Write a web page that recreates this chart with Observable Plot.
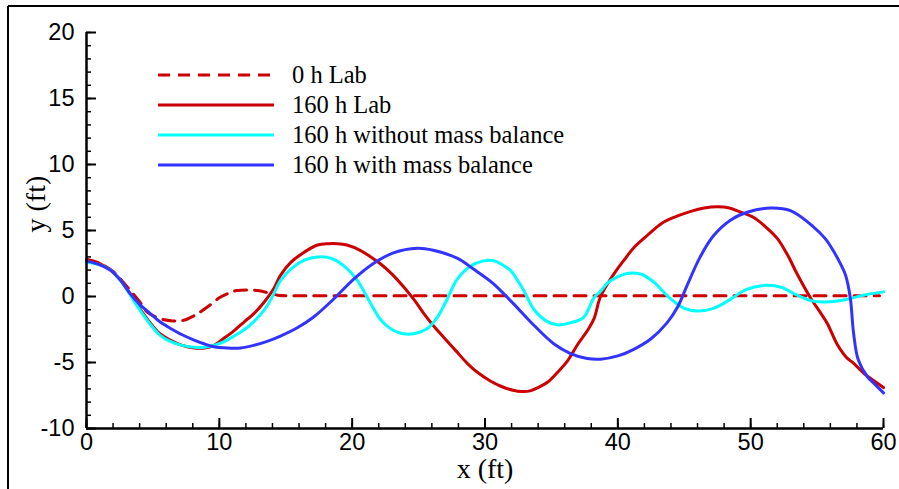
<!DOCTYPE html>
<html>
<head>
<meta charset="utf-8">
<script src="https://cdn.jsdelivr.net/npm/d3@7"></script>
<script src="https://cdn.jsdelivr.net/npm/@observablehq/plot@0.6"></script>
<style>
  html, body { margin: 0; padding: 0; background: #fff; }
  #chart { position: relative; width: 899px; height: 489px; }
</style>
</head>
<body>
<div id="chart"></div>
<script>
// ---- Data ----
const seriesNames = ["0 h Lab", "160 h Lab", "160 h without mass balance", "160 h with mass balance"];
const seriesColors = ["#cc0000", "#cc0000", "#00ffff", "#3333ff"];
const seriesDash = ["12,8", null, null, null];

const lab0X = [0, 1, 2, 3, 4, 4.6, 5.6, 6.5, 7.3, 8.2, 9.1, 10, 10.6, 11.3, 12.1, 12.9, 13.6, 14.4, 15.1, 16, 20, 25, 30, 35, 40, 45, 50, 55, 59.7];
const lab0Y = [2.8, 2.5, 1.9, 0.8, -0.4, -1.2, -1.7, -1.85, -1.8, -1.4, -0.8, -0.1, 0.2, 0.45, 0.5, 0.45, 0.3, 0.1, 0.05, 0.05, 0.05, 0.05, 0.05, 0.05, 0.05, 0.05, 0.05, 0.05, 0.05];

const lab160X = [0, 1, 1.8, 2.5, 3.3, 4, 4.8, 5.5, 6.3, 7.2, 8.1, 8.9, 9.6, 10.3, 11.1, 11.9, 12.6, 13.4, 14.1, 14.6, 15.4, 16.3, 17.4, 18.2, 18.9, 19.6, 20.6, 21.4, 22.1, 23, 23.9, 24.7, 25.4, 26.1, 26.9, 27.8, 28.7, 29.5, 30.4, 31.2, 32.1, 32.8, 33.4, 34, 34.7, 35.5, 36.2, 37, 37.7, 38.2, 38.7, 39.7, 40.5, 41.2, 42.3, 43.4, 44.5, 45.5, 46.5, 47.5, 48.4, 49.2, 50.2, 51.1, 52, 52.8, 53.5, 54.5, 55.3, 55.8, 56.5, 57.2, 57.8, 58.5, 59.3, 60];
const lab160Y = [2.8, 2.5, 2.0, 1.3, 0.2, -0.9, -2.0, -2.8, -3.3, -3.7, -3.9, -3.9, -3.7, -3.2, -2.6, -1.9, -1.3, -0.4, 0.6, 1.6, 2.6, 3.3, 3.9, 4.0, 4.0, 3.9, 3.5, 3.0, 2.5, 1.7, 0.7, -0.3, -1.3, -2.2, -3.1, -4.1, -5.1, -5.8, -6.4, -6.8, -7.1, -7.2, -7.15, -6.9, -6.5, -5.7, -4.9, -3.6, -2.6, -1.7, 0.0, 1.7, 2.8, 3.7, 4.7, 5.6, 6.1, 6.45, 6.7, 6.8, 6.7, 6.4, 6.0, 5.3, 4.4, 3.1, 1.7, -0.1, -1.3, -2.1, -3.6, -4.6, -5.1, -5.8, -6.4, -6.9];

const noMassX = [0, 1, 1.8, 2.5, 3.3, 4, 4.8, 5.5, 6.3, 7.2, 8.1, 8.9, 9.6, 10.4, 11.1, 11.9, 12.6, 13.4, 14.0, 14.6, 15.4, 16.4, 17.4, 18.4, 19.4, 20.4, 21.1, 21.6, 22.1, 22.7, 23.4, 24.1, 24.7, 25.7, 26.4, 26.8, 27.2, 27.9, 28.9, 29.9, 30.7, 31.3, 31.9, 32.4, 32.9, 33.7, 34.7, 35.5, 36.4, 37.4, 38.2, 38.7, 39.2, 40, 40.7, 41.7, 42.7, 43.4, 44, 45, 46, 47.2, 48.5, 49.4, 50.2, 51.2, 52.3, 53.5, 54.7, 56, 57.3, 58.5, 60];
const noMassY = [2.6, 2.4, 2.0, 1.3, 0.1, -1.0, -2.1, -2.9, -3.4, -3.7, -3.85, -3.85, -3.7, -3.4, -3.0, -2.5, -1.9, -1.0, 0.0, 1.2, 2.1, 2.75, 3.0, 2.9, 2.3, 1.2, 0.0, -0.9, -1.7, -2.3, -2.7, -2.85, -2.8, -2.4, -1.6, -0.9, -0.1, 1.3, 2.3, 2.7, 2.7, 2.4, 2.0, 1.3, 0.5, -1.0, -1.9, -2.15, -2.0, -1.6, -0.1, 0.4, 1.0, 1.5, 1.75, 1.7, 1.1, 0.4, -0.2, -0.9, -1.1, -0.9, -0.2, 0.4, 0.7, 0.85, 0.7, 0.1, -0.35, -0.4, -0.2, 0.1, 0.35];

const withMassX = [0, 1, 1.8, 2.5, 3.3, 4, 4.8, 5.5, 6.3, 7.2, 8.1, 8.9, 9.6, 10.6, 11.6, 12.6, 13.6, 14.6, 15.9, 17.1, 18.6, 20.1, 21.6, 23.1, 24.9, 26.1, 27.9, 29.1, 30.6, 32.1, 33.7, 35.2, 36.4, 37.7, 38.7, 40, 41.2, 42.5, 43.7, 44.5, 45.2, 46.2, 47.2, 48.5, 49.8, 51.5, 53, 54.7, 55.6, 56.2, 56.8, 57.15, 57.5, 57.75, 58.1, 58.8, 59.3, 60];
const withMassY = [2.7, 2.4, 2.0, 1.3, 0.2, -0.6, -1.3, -1.9, -2.4, -2.9, -3.3, -3.6, -3.8, -3.9, -3.9, -3.7, -3.4, -3.0, -2.35, -1.55, -0.2, 1.3, 2.5, 3.3, 3.65, 3.5, 2.9, 2.1, 1.0, -0.5, -2.2, -3.6, -4.3, -4.7, -4.75, -4.5, -4.0, -3.2, -2.0, -0.8, 0.8, 3.0, 4.6, 5.8, 6.4, 6.7, 6.5, 5.3, 4.4, 3.5, 2.4, 1.6, -0.1, -2.8, -4.8, -6.1, -6.6, -7.3];

const xMajorTicks = [0, 10, 20, 30, 40, 50, 60];
const xMinorTicks = d3.range(0, 61, 2);
const yMajorTicks = [-10, -5, 0, 5, 10, 15, 20];
const yMinorTicks = d3.range(-10, 21, 1);

// ---- Build table ----
const seriesXs = [lab0X, lab160X, noMassX, withMassX];
const seriesYs = [lab0Y, lab160Y, noMassY, withMassY];
const rows = [];
seriesNames.forEach((name, i) => {
  seriesXs[i].forEach((x, j) => rows.push({series: name, x, y: seriesYs[i][j]}));
});

const W = 899, H = 489;
const sansFont = "'Liberation Sans', Arial, sans-serif";
const serifFont = "'Liberation Serif', 'Times New Roman', serif";
const plainNum = d => String(d);

const lineMarks = seriesNames.map((name, i) =>
  Plot.line(rows.filter(d => d.series === name), {
    x: "x", y: "y",
    stroke: seriesColors[i],
    strokeWidth: 3,
    strokeDasharray: seriesDash[i] || undefined,
    curve: "catmull-rom"
  })
);

const chart = Plot.plot({
  width: W,
  height: H,
  marginLeft: 86,
  marginRight: 16,
  marginTop: 32,
  marginBottom: 61,
  style: {fontFamily: sansFont, background: "#fff"},
  x: {domain: [0, 60]},
  y: {domain: [-10, 20]},
  marks: [
    lineMarks[0], lineMarks[1], lineMarks[2], lineMarks[3],
    // axis lines
    Plot.ruleX([0], {y1: -10, y2: 20, stroke: "#000", strokeWidth: 2.5}),
    Plot.ruleY([-10], {x1: 0, x2: 60, stroke: "#000", strokeWidth: 2.5}),
    // inward ticks
    Plot.axisY({ticks: yMajorTicks, tickSize: -10, tickFormat: () => "", strokeWidth: 2, label: null}),
    Plot.axisY({ticks: yMinorTicks, tickSize: -5, tickFormat: () => "", strokeWidth: 1.5, label: null}),
    Plot.axisX({ticks: xMajorTicks, tickSize: -10, tickFormat: () => "", strokeWidth: 2, label: null}),
    Plot.axisX({ticks: xMinorTicks, tickSize: -5, tickFormat: () => "", strokeWidth: 1.5, label: null}),
    // tick labels
    Plot.axisY({ticks: yMajorTicks, tickSize: 0, tickPadding: 12, tickFormat: plainNum, fontSize: 23.5, fontFamily: sansFont, label: null, color: "#000"}),
    Plot.axisX({ticks: xMajorTicks, tickSize: 0, tickPadding: 5, tickFormat: plainNum, fontSize: 23.5, fontFamily: sansFont, label: null, color: "#000"}),
    // axis titles
    Plot.text(["x (ft)"], {frameAnchor: "bottom", dy: 41, fontSize: 28, fontFamily: serifFont, fill: "#000", lineAnchor: "middle"}),
    Plot.text(["y (ft)"], {frameAnchor: "left", dx: -50, dy: 2, rotate: -90, fontSize: 28, fontFamily: serifFont, fill: "#000", lineAnchor: "middle"})
  ]
});

document.getElementById("chart").appendChild(chart);

// ---- Legend and outer border drawn into the same SVG ----
const svg = d3.select(chart);
const legend = svg.append("g").attr("class", "legend");
seriesNames.forEach((name, i) => {
  const yy = 75 + i * 30;
  legend.append("line")
    .attr("x1", 158).attr("x2", 274).attr("y1", yy).attr("y2", yy)
    .attr("stroke", seriesColors[i]).attr("stroke-width", 3)
    .attr("stroke-dasharray", seriesDash[i]);
  legend.append("text")
    .attr("x", 292).attr("y", yy).attr("dy", "0.33em")
    .attr("text-anchor", "start")
    .attr("font-family", serifFont).attr("font-size", 24.5)
    .attr("fill", "#000")
    .text(name);
});
svg.append("line").attr("x1", 8).attr("x2", 8).attr("y1", 6).attr("y2", H)
  .attr("stroke", "#000").attr("stroke-width", 2);
svg.append("line").attr("x1", 8).attr("x2", W).attr("y1", 6).attr("y2", 6)
  .attr("stroke", "#000").attr("stroke-width", 2);
</script>
</body>
</html>
